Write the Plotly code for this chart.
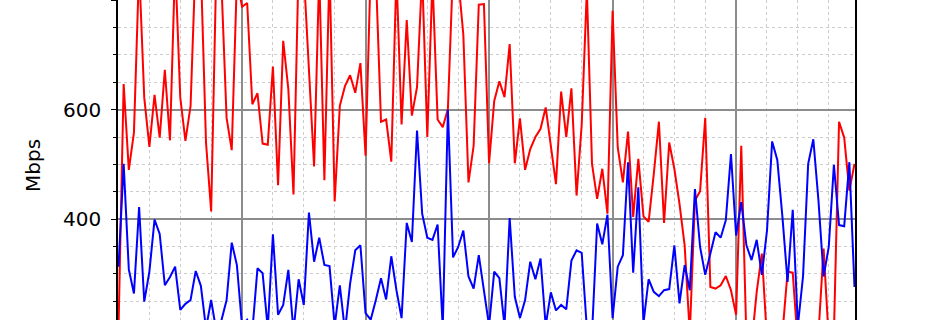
import plotly.graph_objects as go

hours = list(range(144))

red_mbps = [200, 647, 490, 558, 860, 622, 532, 627, 549, 673, 544, 870, 622, 543, 607, 880, 860, 540, 414, 860,
            830, 585, 526, 840, 788, 795, 610, 630, 538, 536, 679, 462, 726, 637, 445, 870, 850, 660, 496, 850,
            471, 860, 432, 607, 643, 663, 631, 685, 516, 860, 850, 578, 582, 505, 850, 573, 764, 589, 641, 850,
            550, 840, 582, 568, 601, 860, 840, 737, 467, 534, 792, 793, 502, 616, 652, 623, 720, 502, 584, 490,
            528, 550, 565, 604, 534, 464, 633, 550, 639, 443, 573, 820, 501, 437, 492, 410, 781, 531, 467, 560,
            404, 510, 405, 395, 482, 578, 393, 540, 492, 428, 352, 190, 434, 451, 585, 276, 273, 279, 296, 270,
            225, 534, 180, 170, 267, 337, 180, 150, 160, 190, 304, 302, 170, 150, 160, 170, 190, 346, 180, 190,
            578, 549, 452, 501]

blue_mbps = [313, 501, 308, 264, 422, 249, 304, 399, 373, 279, 294, 313, 234, 245, 252, 305, 278, 200, 252, 195,
             215, 252, 357, 316, 205, 216, 195, 310, 301, 200, 372, 225, 243, 307, 195, 290, 243, 412, 322, 366,
             316, 314, 205, 279, 195, 282, 343, 352, 228, 216, 252, 292, 253, 332, 270, 219, 393, 358, 562, 410,
             366, 362, 390, 200, 600, 330, 349, 379, 295, 273, 334, 273, 205, 304, 292, 205, 402, 258, 219, 252,
             322, 290, 328, 205, 266, 233, 243, 235, 324, 343, 338, 200, 190, 392, 354, 408, 219, 313, 334, 504,
             302, 458, 210, 290, 267, 259, 270, 272, 352, 246, 316, 270, 455, 349, 298, 337, 376, 366, 398, 519,
             370, 431, 352, 325, 362, 298, 379, 542, 508, 404, 285, 417, 205, 295, 501, 546, 434, 295, 349, 499,
             389, 387, 504, 276]

y_ticks = [400, 600, 800]
y_label = "Mbps"

fig = go.Figure()
fig.add_trace(go.Scatter(x=hours, y=red_mbps, mode="lines",
                         line=dict(color="#ff0000", width=2), showlegend=False))
fig.add_trace(go.Scatter(x=hours, y=blue_mbps, mode="lines",
                         line=dict(color="#0000ff", width=2), showlegend=False))

fig.update_layout(
    width=950, height=320,
    margin=dict(l=118, r=95, t=0, b=0),
    paper_bgcolor="white", plot_bgcolor="white",
    font=dict(family="DejaVu Sans", color="black", size=20),
    xaxis=dict(range=[-0.1, 143.1], tick0=0, dtick=24, showticklabels=False,
               showgrid=True, gridcolor="#8c8c8c", gridwidth=1.5,
               showline=False, zeroline=False, ticks="",
               minor=dict(dtick=6, tick0=0, showgrid=True, gridcolor="#cccccc",
                          griddash="dot", gridwidth=1, ticks="")),
    yaxis=dict(range=[215.5, 800.5], tickvals=y_ticks, ticktext=[str(v) for v in y_ticks],
               showgrid=True, gridcolor="#8c8c8c", gridwidth=1.5,
               showline=True, linecolor="black", linewidth=1.5, mirror=True,
               zeroline=False, ticks="outside", ticklen=5, tickwidth=1, tickcolor="black",
               ticklabelstandoff=6,
               tickfont=dict(family="DejaVu Sans", size=20, color="black"),
               minor=dict(dtick=50, tick0=0, showgrid=True, gridcolor="#cccccc",
                          griddash="dot", gridwidth=1, ticks="outside", ticklen=3,
                          tickcolor="black")),
)

fig.add_annotation(text=y_label, xref="paper", yref="paper",
                   x=(33 - 118) / 737, y=1 - 166 / 320, xanchor="center", yanchor="middle",
                   textangle=-90, showarrow=False,
                   font=dict(family="DejaVu Sans", size=20, color="black"))

fig.write_html("out.html")
